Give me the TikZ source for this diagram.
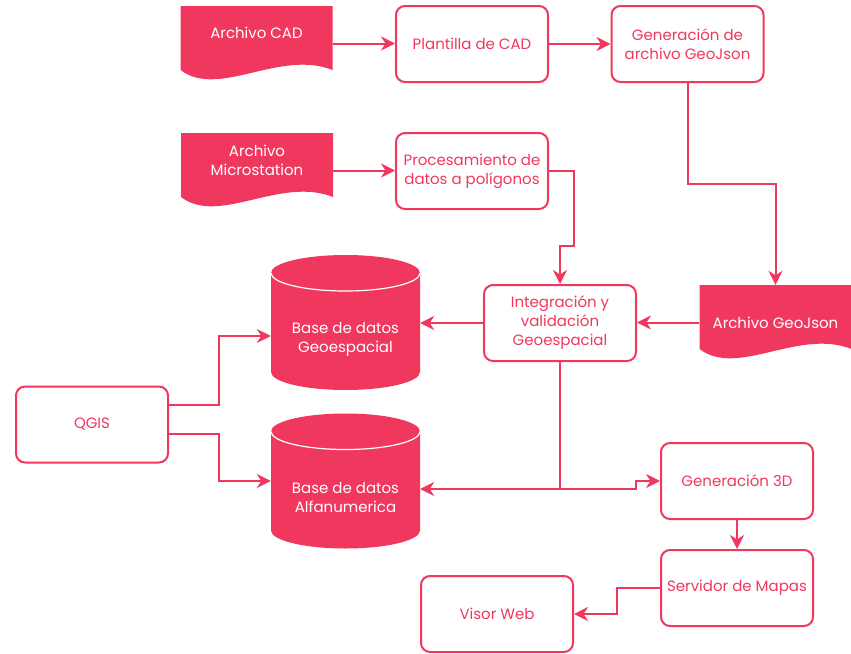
\documentclass[tikz,border=0pt]{standalone}
\usepackage{fontspec}
\setmainfont{Poppins}
\usepackage{tikz}
\usetikzlibrary{arrows.meta,calc}
\definecolor{rosa}{RGB}{240,56,94}

\tikzset{
  box/.style={draw=rosa, line width=2pt, rounded corners=9pt, fill=white, text=rosa,
    minimum width=152, minimum height=76, align=center, inner sep=2pt},
  docu/.style={minimum width=152, minimum height=75, inner sep=0pt,
    path picture={\fill[rosa] (path picture bounding box.north west) -- (path picture bounding box.north east)
      -- ($(path picture bounding box.south east)+(0,11)$)
      .. controls ($(path picture bounding box.south east)+(-53,32)$) and ($(path picture bounding box.south west)+(38,-18)$)
      .. ($(path picture bounding box.south west)+(0,11)$) -- cycle;}},
  doclbl/.style={text=white, align=center},
  cyl/.style={minimum width=149, minimum height=135, inner sep=0pt,
    path picture={\fill[rosa] ($(path picture bounding box.north west)+(0,-18)$)
      -- ($(path picture bounding box.south west)+(0,18)$) arc[start angle=180, end angle=360, x radius=74.5pt, y radius=18pt]
      -- ($(path picture bounding box.north east)+(0,-18)$) arc[start angle=0, end angle=180, x radius=74.5pt, y radius=18pt] -- cycle;
      \draw[white, line width=1.2pt] ($(path picture bounding box.north west)+(0,-18)$)
      arc[start angle=180, end angle=360, x radius=74.5pt, y radius=18pt];}},
  cyllbl/.style={text=white, align=center, yshift=-17pt},
  link/.style={draw=rosa, line width=2pt},
  flow/.style={link, -{Stealth[length=14pt, width=14pt, inset=4.5pt]}}
}

\begin{document}
\begin{tikzpicture}[x=1pt, y=1pt, font=\fontsize{15}{19}\selectfont]
    \useasboundingbox (0,0) rectangle (851,-653);

    % sources
    \node [docu, label={[doclbl, yshift=10.5pt]center:Archivo CAD}] (cad) at (256.5,-43.5) {};
    \node [docu, label={[doclbl, yshift=10.5pt]center:Archivo\\Microstation}] (micro) at (257,-170.5) {};
    \node [docu, label={[doclbl]center:Archivo GeoJson}] (gj) at (775.5,-322.5) {};

    \node [box] (plant) at (472,-44)   {Plantilla de CAD};
    \node [box] (gen)   at (687.5,-44) {Generación de\\archivo GeoJson};
    \node [box] (proc)  at (472,-171)  {Procesamiento de\\datos a polígonos};
    \node [box] (integ) at (560,-323)  {Integración y\\validación\\Geoespacial};
    \node [box] (qgis)  at (92,-424.5) {QGIS};
    \node [box] (gen3d) at (737,-481)  {Generación 3D};
    \node [box] (serv)  at (737,-588)  {Servidor de Mapas};
    \node [box] (visor) at (497,-614)  {Visor Web};

    % databases
    \node [cyl, label={[cyllbl]center:Base de datos\\Geoespacial}] (geo) at (345.5,-322.5) {};
    \node [cyl, label={[cyllbl]center:Base de datos\\Alfanumerica}] (alfa) at (345.5,-481) {};

    \coordinate (junc) at ($(integ.south)+(0,-127)$);

    \draw [flow] (cad.east) -- (cad.east -| plant.west);
    \draw [flow] (plant.east) -- (gen.west);
    \draw [flow] (gen.south) -- ++(0,-101) -| (gj.north);
    \draw [flow] (micro.east) -- (micro.east -| proc.west);
    \draw [flow] (proc.east) -- ++(25,0) -- ++(0,-75) -| (integ.north);
    \draw [flow] (gj.west) -- (gj.west -| integ.east);
    \draw [flow] (integ.west) -- (integ.west -| geo.east);
    \draw [link] (integ.south) -- (junc);
    \draw [flow] (junc) -- (junc -| alfa.east);
    \draw [flow] (junc) -| ($(gen3d.west)+(-24,0)$) -- (gen3d.west);
    \draw [flow] ($(qgis.east)+(0,19.5)$) -- ++(50,0) |- ($(geo.west)+(0,-13.5)$);
    \draw [flow] ($(qgis.east)+(0,-9.5)$) -- ++(50,0) |- (alfa.west);
    \draw [flow] (gen3d.south) -- (serv.north);
    \draw [flow] (serv.west) -- ++(-43,0) |- (visor.east);
\end{tikzpicture}
\end{document}
